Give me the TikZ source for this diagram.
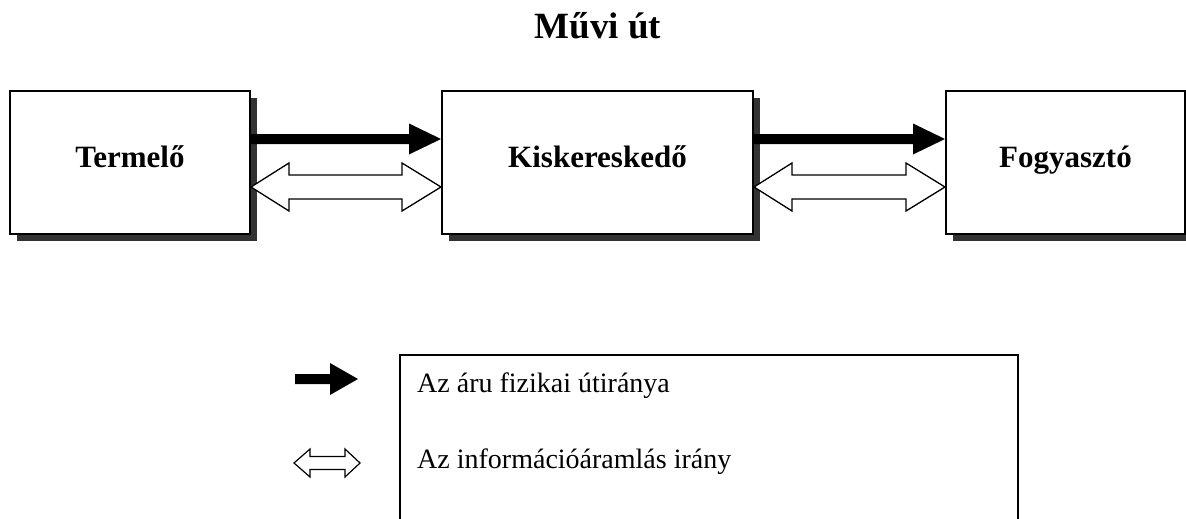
\documentclass[tikz,border=0pt]{standalone}
\usepackage{fontspec}
\setmainfont{Liberation Serif}
\usetikzlibrary{calc,shadows}

\tikzset{
  box/.style={draw=black, line width=2pt, fill=white, inner sep=0pt,
    drop shadow={shadow xshift=6.5pt, shadow yshift=-6.5pt, fill=black!80, opacity=1}},
  boxlabel/.style={font=\fontsize{31}{37}\selectfont\bfseries, anchor=base, inner sep=0pt},
  legendtext/.style={font=\fontsize{28}{34}\selectfont, anchor=base west, inner sep=0pt},
  solidarrow/.style={fill=black, draw=none},
  hollowarrow/.style={fill=white, draw=black, line width=1.3pt, line join=miter},
}

% filled arrow from the east side of #1 to the west side of #2, shifted by #3
\newcommand\goodsflow[3]{%
  \path[solidarrow]
    ($(#1.east)+(0,#3-5)$) -- ($(#2.west)+(-32,#3-5)$) -- ($(#2.west)+(-32,#3-15.5)$)
    -- ($(#2.west)+(0,#3)$)
    -- ($(#2.west)+(-32,#3+15.5)$) -- ($(#2.west)+(-32,#3+5)$) -- ($(#1.east)+(0,#3+5)$) -- cycle;}

% hollow double-headed arrow between #1 and #2, shifted by #3
\newcommand\infoflow[3]{%
  \draw[hollowarrow]
    ($(#1.east)+(0,#3)$) -- ($(#1.east)+(38,#3-24)$) -- ($(#1.east)+(38,#3-12)$)
    -- ($(#2.west)+(-39,#3-12)$) -- ($(#2.west)+(-39,#3-24)$) -- ($(#2.west)+(0,#3)$)
    -- ($(#2.west)+(-39,#3+24)$) -- ($(#2.west)+(-39,#3+12)$)
    -- ($(#1.east)+(38,#3+12)$) -- ($(#1.east)+(38,#3+24)$) -- cycle;}

\begin{document}
\begin{tikzpicture}[x=1pt,y=-1pt]
\useasboundingbox (0,0) rectangle (1186,519);

% title
\node[font=\fontsize{37}{44}\selectfont\bfseries, anchor=base, inner sep=0pt] (title) at (598,39) {Művi út};

% the three stages of the channel
\node[box, minimum width=240pt, minimum height=143pt] (termelo) at (130,162.5) {};
\node[box, minimum width=311pt, minimum height=143pt] (kisker) at (597.5,162.5) {};
\node[box, minimum width=239pt, minimum height=143pt] (fogy) at (1065.5,162.5) {};

\node[boxlabel] (termeloL) at ($(termelo.center)+(0,4.5)$) {Termelő};
\node[boxlabel] (kiskerL) at ($(kisker.center)+(0,4.5)$) {Kiskereskedő};
\node[boxlabel] (fogyL) at ($(fogy.center)+(0,4.5)$) {Fogyasztó};

% flows between the stages
\goodsflow{termelo}{kisker}{-23.5}
\goodsflow{kisker}{fogy}{-23.5}
\infoflow{termelo}{kisker}{24.5}
\infoflow{kisker}{fogy}{24.5}

% legend
\draw[line width=2pt] (400,530) -- (400,355) -- (1018,355) -- (1018,530);
\node[legendtext] (leg1) at (417,392) {Az áru fizikai útiránya};
\node[legendtext] (leg2) at (417,468) {Az információáramlás irány};

\path[solidarrow] (295,374) -- (330,374) -- (330,363) -- (358,379) -- (330,395) -- (330,384) -- (295,384) -- cycle;
\draw[hollowarrow, line width=1.2pt] (294,463) -- (310,449) -- (310,456.5) -- (345,456.5) -- (345,449)
  -- (360,463) -- (345,477) -- (345,469.5) -- (310,469.5) -- (310,477) -- cycle;
\end{tikzpicture}
\end{document}
